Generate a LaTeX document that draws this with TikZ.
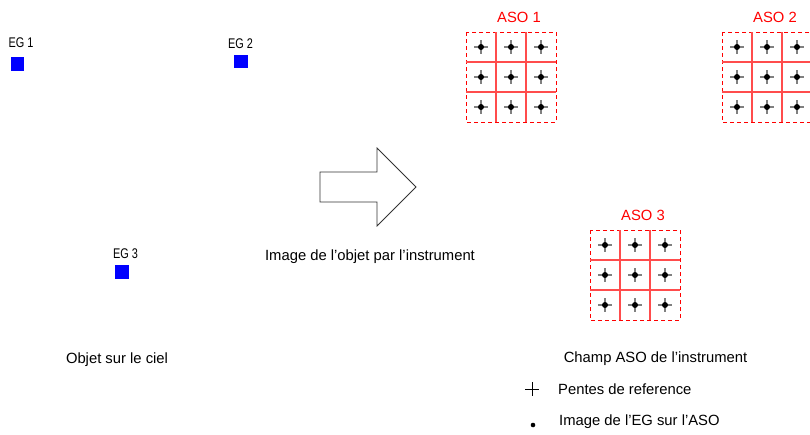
\documentclass[tikz,border=0pt]{standalone}
\usepackage{fontspec}
\setmainfont{Liberation Sans}
\usepackage{graphicx}
\usetikzlibrary{positioning}

\tikzset{
  eg/.style={fill=blue, minimum size=13.5pt, inner sep=0pt},
  eglabel/.style={anchor=base, inner sep=0pt, font=\fontsize{14}{16}\selectfont},
  asobord/.style={draw=red, line width=1pt, dash pattern=on 4pt off 3pt},
  asoligne/.style={draw=red!70, line width=1.2pt},
  asotitre/.style={text=red, anchor=base, inner sep=0pt},
  texte/.style={anchor=base, inner sep=0pt},
  pente/.style={draw=black!50, line width=1.1pt},
}
% grille ASO : #1 = nom, #2 = coin haut gauche, #3 = titre
\newcommand{\grilleaso}[3]{
  \begin{scope}[shift={#2}]
    \draw[asobord] (0,0) rectangle (90,90);
    \draw[asoligne] (30,0) -- (30,90) (60,0) -- (60,90) (0,30) -- (90,30) (0,60) -- (90,60);
    \foreach \i in {0,1,2}
      \foreach \j in {0,1,2} {
        \draw[pente] (15+30*\i-7,15+30*\j) -- ++(14,0) (15+30*\i,15+30*\j-7) -- ++(0,14);
        \fill[black] (15+30*\i,15+30*\j) circle (3);
      }
    \node[asotitre] (#1) at (53,-10) {#3};
  \end{scope}
}

\begin{document}
\begin{tikzpicture}[x=1pt, y=-1pt, font=\fontsize{14.8}{17}\selectfont]
  \useasboundingbox (0,0) rectangle (810,434);

  % objet sur le ciel
  \node[eglabel] (eg1t) at (21,47) {\scalebox{0.78}[1]{EG 1}};
  \node[eg] (eg1) at (17.5,64) {};
  \node[eglabel] (eg2t) at (240.5,48) {\scalebox{0.78}[1]{EG 2}};
  \node[eg] (eg2) at (241,61.5) {};
  \node[eglabel] (eg3t) at (125.5,258) {\scalebox{0.78}[1]{EG 3}};
  \node[eg] (eg3) at (122,272) {};
  \node[texte] (objet) at (117,363) {Objet sur le ciel};

  % fleche
  \draw[line width=0.8pt, black!80] (320,172) -- (377,172) -- (377,148) -- (416,187)
    -- (377,226) -- (377,202) -- (320,202) -- cycle;
  \node[texte] (image) at (370,260) {Image de l'objet par l'instrument};

  % champ ASO
  \grilleaso{aso1}{(466,32)}{ASO 1}
  \grilleaso{aso2}{(722,32)}{ASO 2}
  \grilleaso{aso3}{(590,230)}{ASO 3}
  \node[texte] (champ) at (655.5,362) {Champ ASO de l'instrument};

  % legende
  \draw[line width=0.6pt] (525,389) -- (539,389) (532,382) -- (532,396);
  \node[texte, anchor=base west] (pentes) at (558,394) {Pentes de reference};
  \fill (533,425) circle (2.3);
  \node[texte, anchor=base west] (egaso) at (559,425) {Image de l'EG sur l'ASO};
\end{tikzpicture}
\end{document}
